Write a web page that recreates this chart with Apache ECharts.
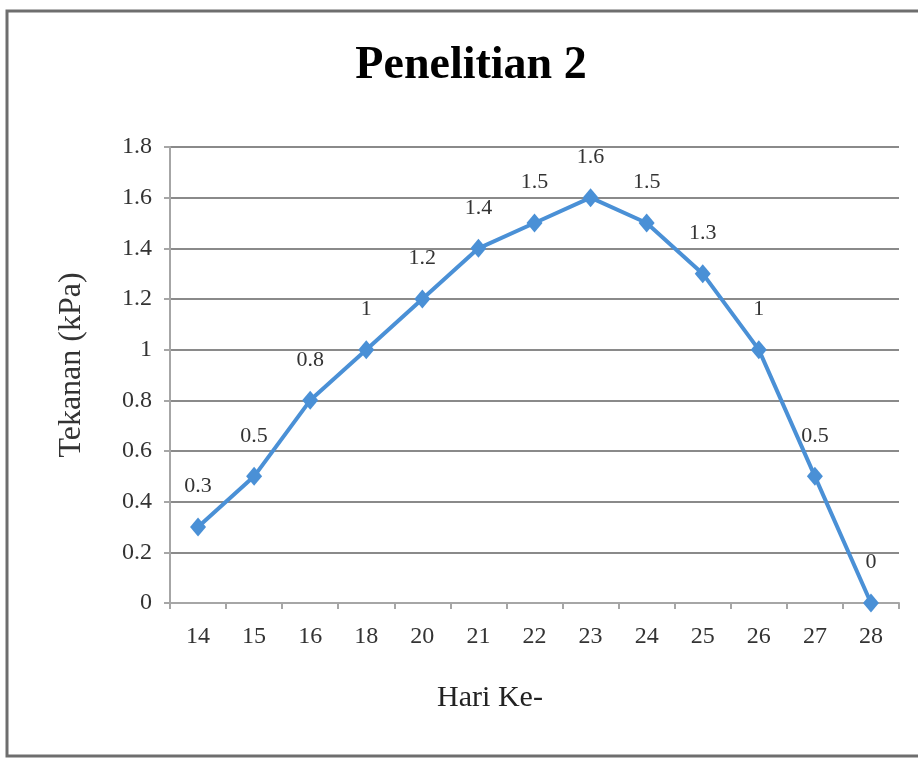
<!DOCTYPE html>
<html>
<head>
<meta charset="utf-8">
<script src="https://cdn.jsdelivr.net/npm/echarts@6/dist/echarts.min.js"></script>
<style>
html,body{margin:0;padding:0;background:#fff;}
#chart{width:918px;height:758px;}
</style>
</head>
<body>
<div id="chart"></div>
<script>
var titleText = 'Penelitian 2';
var xAxisName = 'Hari Ke-';
var yAxisName = 'Tekanan (kPa)';
var categories = ['14','15','16','18','20','21','22','23','24','25','26','27','28'];
var values = [0.3, 0.5, 0.8, 1, 1.2, 1.4, 1.5, 1.6, 1.5, 1.3, 1, 0.5, 0];
var yMin = 0, yMax = 1.8, yStep = 0.2;

var serif = 'Liberation Serif';
var chart = echarts.init(document.getElementById('chart'), null, {renderer: 'canvas'});
chart.setOption({
  animation: false,
  backgroundColor: '#ffffff',
  graphic: [{
    type: 'rect',
    shape: {x: 7, y: 11, width: 940, height: 745},
    style: {fill: 'none', stroke: '#6e6e6e', lineWidth: 3},
    silent: true,
    z: -1
  }],
  title: {
    text: titleText,
    left: 466,
    top: 38,
    textAlign: 'center',
    textStyle: {fontFamily: serif, fontWeight: 'bold', fontSize: 46, color: '#000'}
  },
  grid: {left: 170, right: 19, top: 147, bottom: 155, containLabel: false},
  xAxis: {
    type: 'category',
    data: categories,
    boundaryGap: true,
    name: xAxisName,
    nameLocation: 'middle',
    nameGap: 80,
    nameTextStyle: {fontFamily: serif, fontSize: 30, color: '#222', padding: [0, 89, 0, 0]},
    axisLine: {show: true, lineStyle: {color: '#a6a6a6', width: 2}},
    axisTick: {show: true, alignWithLabel: false, length: 6, lineStyle: {color: '#a6a6a6', width: 2}},
    axisLabel: {fontFamily: serif, fontSize: 24, color: '#333', margin: 22},
    splitLine: {show: false}
  },
  yAxis: {
    type: 'value',
    min: yMin,
    max: yMax,
    interval: yStep,
    name: yAxisName,
    nameLocation: 'middle',
    nameGap: 82,
    nameRotate: 90,
    nameTextStyle: {fontFamily: serif, fontSize: 32, color: '#333', padding: [0, 0, 0, 20]},
    axisLine: {show: true, lineStyle: {color: '#a6a6a6', width: 2}},
    axisTick: {show: true, length: 6, lineStyle: {color: '#a6a6a6', width: 2}},
    axisLabel: {fontFamily: serif, fontSize: 24, color: '#333', margin: 18},
    splitLine: {show: true, lineStyle: {color: '#8a8a8a', width: 2}}
  },
  series: [{
    type: 'line',
    data: values,
    symbol: 'diamond',
    symbolSize: [16, 19],
    itemStyle: {color: '#4a90d6'},
    lineStyle: {color: '#4a90d6', width: 4},
    label: {
      show: true,
      position: 'top',
      distance: 20,
      fontFamily: serif,
      fontSize: 22,
      color: '#333'
    }
  }]
});
</script>
</body>
</html>
